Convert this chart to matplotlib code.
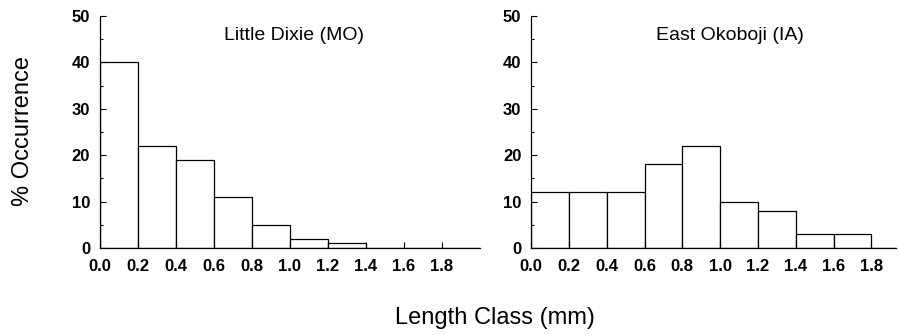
import matplotlib.pyplot as plt
from matplotlib.ticker import MultipleLocator

plt.rcParams['font.family'] = ['Liberation Sans', 'DejaVu Sans']

# length class bins (mm) and % occurrence per lake
bin_left = [0.0, 0.2, 0.4, 0.6, 0.8, 1.0, 1.2, 1.4, 1.6, 1.8]
little_dixie = [40, 22, 19, 11, 5, 2, 1, 0, 0, 0]
east_okoboji = [12, 12, 12, 18, 22, 10, 8, 3, 3, 0]
tick_labels = ['0.0', '0.2', '0.4', '0.6', '0.8', '1.0', '1.2', '1.4', '1.6', '1.8']
titles = ['Little Dixie (MO)', 'East Okoboji (IA)']

fig = plt.figure(figsize=(8.99, 3.35), dpi=100)
ax1 = fig.add_axes([0.1112, 0.2597, 0.4227, 0.6925])
ax2 = fig.add_axes([0.5907, 0.2597, 0.406, 0.6925])


def draw_panel(ax, vals, title, xmax, title_x):
    ax.bar(bin_left, vals, width=0.2, align='edge', color='white',
           edgecolor='black', linewidth=0.9)
    ax.set_xlim(0, xmax)
    ax.set_ylim(0, 50)
    ax.set_xticks(bin_left)
    ax.set_xticklabels(tick_labels)
    ax.yaxis.set_major_locator(MultipleLocator(10))
    ax.yaxis.set_minor_locator(MultipleLocator(5))
    for s in ['top', 'right']:
        ax.spines[s].set_visible(False)
    for s in ['left', 'bottom']:
        ax.spines[s].set_linewidth(0.9)
    ax.tick_params(axis='both', which='major', direction='in', length=4,
                   width=0.8, labelsize=12)
    ax.tick_params(axis='x', which='major', pad=8)
    ax.tick_params(axis='y', which='major', pad=7)
    ax.tick_params(axis='y', which='minor', direction='in', length=2.5, width=0.8)
    for lab in ax.get_xticklabels() + ax.get_yticklabels():
        lab.set_fontweight('bold')
    ax.text(title_x, 0.915, title, transform=ax.transAxes, ha='center',
            va='center', fontsize=14)


draw_panel(ax1, little_dixie, titles[0], 2.0, 0.51)
draw_panel(ax2, east_okoboji, titles[1], 1.93, 0.545)

fig.text(0.026, 0.61, '% Occurrence', rotation=90, ha='center', va='center',
         fontsize=17)
fig.text(0.551, 0.05, 'Length Class (mm)', ha='center', va='center', fontsize=17)

fig.savefig('out.png', dpi=100)
